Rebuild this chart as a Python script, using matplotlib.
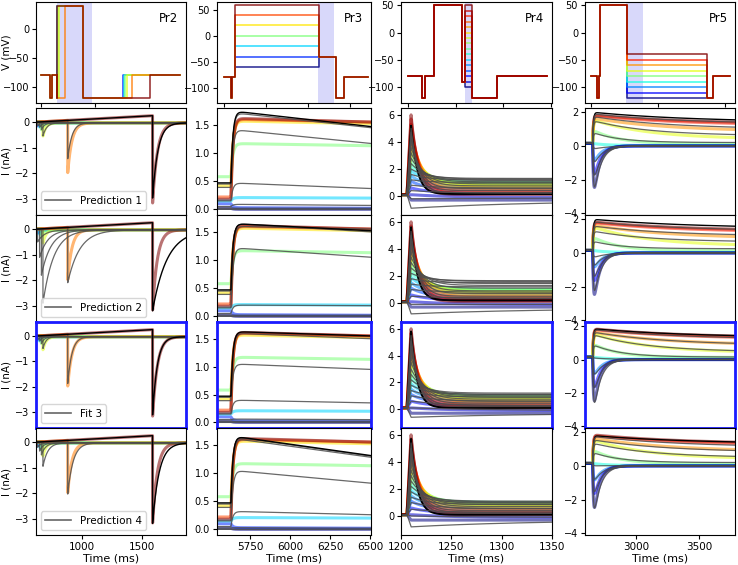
import numpy as np
import matplotlib
matplotlib.use("Agg")
import matplotlib.pyplot as plt
from matplotlib.lines import Line2D

plt.rcParams['font.size'] = 7
plt.rcParams['axes.linewidth'] = 0.8
plt.rcParams['xtick.major.pad'] = 2
plt.rcParams['ytick.major.pad'] = 2
plt.rcParams['xtick.major.size'] = 3
plt.rcParams['ytick.major.size'] = 3

# ---------------- protocols (top row) ----------------
# Pr2: 6 sweeps, step-up time and step-back time vary
pr2_up = [300, 310, 320, 340, 450, 300]
pr2_back = [1528, 1545, 1560, 1590, 1683, 2022]
pr2_cpos = [0.15, 0.35, 0.5, 0.62, 0.78, 1.0]
# Pr3: step voltages
pr3_v = [-60, -40, -20, 0, 20, 40, 60]
# Pr4: step voltages
pr4_v = [50, 40, 30, 20, 10, 0, -10, -20, -30, -40, -50, -60, -70, -80, -90, -100]
# Pr5: step voltages
pr5_v = [-40, -50, -60, -70, -80, -90, -100, -110, -120]

# ---------------- Pr2 currents ----------------
pr2_tspike = [628, 645, 660, 673, 880, 1590]
pr2_amp_data = [-0.15, -0.2, -0.3, -0.55, -2.0, -3.2]
pr2_tau_data = [20, 20, 25, 25, 35, 40]
pr2_amp_model = [
    [-0.15, -0.2, -0.3, -0.55, -1.45, -3.0],
    [-0.5, -1.1, -1.8, -2.9, -2.1, -3.2],
    [-0.15, -0.2, -0.3, -0.5, -1.9, -3.15],
    [-0.2, -0.35, -0.5, -0.95, -2.05, -3.2],
]
pr2_tau_model = [
    [20, 20, 25, 30, 35, 45],
    [60, 70, 80, 90, 100, 120],
    [20, 20, 25, 25, 35, 40],
    [25, 30, 35, 40, 45, 55],
]
pr2_ramp = 0.25  # nA reached by the last sweep before its tail

# ---------------- Pr3 currents ----------------
pr3_pre_data = [0.02, 0.1, 0.15, 0.58, 0.42, 0.22, 0.18]
pr3_pk_data = [0.0, 0.03, 0.21, 1.17, 1.57, 1.6, 1.62]
pr3_end_data = [0.0, 0.02, 0.2, 1.13, 1.52, 1.55, 1.55]
pr3_pre_model = [0.0, 0.02, 0.05, 0.15, 0.39, 0.45, 0.47]
pr3_pk_model = [
    [0.0, 0.02, 0.09, 0.47, 1.42, 1.72, 1.75],
    [0.0, 0.02, 0.2, 1.22, 1.6, 1.65, 1.65],
    [0.0, 0.02, 0.06, 0.4, 1.05, 1.6, 1.63],
    [0.0, 0.03, 0.32, 1.05, 1.62, 1.65, 1.66],
]
pr3_end_model = [
    [0.0, 0.02, 0.07, 0.37, 1.17, 1.45, 1.47],
    [0.0, 0.02, 0.19, 1.05, 1.55, 1.5, 1.52],
    [0.0, 0.02, 0.05, 0.35, 0.95, 1.5, 1.55],
    [0.0, 0.02, 0.26, 0.82, 1.28, 1.3, 1.31],
]

# ---------------- Pr4 currents ----------------
pr4_pk_data = [6.0, 5.7, 5.3, 4.9, 4.5, 4.0, 3.6, 3.1, 2.7, 2.3, 1.9, 1.5, 1.1, 0.6, 0.1, -0.3]
pr4_ss_data = [0.12, 0.2, 0.3, 0.45, 0.6, 0.75, 0.85, 0.95, 1.0, 1.0, 0.9, 0.7, 0.45, 0.2, -0.1, -0.3]
pr4_tau_data = [7, 8, 9, 10, 11, 12, 13, 14, 14, 14, 14, 14, 16, 20, 40, 60]
pr4_pk_model = [
    [5.2, 5.0, 4.7, 4.4, 4.0, 3.6, 3.2, 2.8, 2.4, 2.0, 1.6, 1.2, 0.8, 0.4, -0.2, -0.9],
    [5.6, 5.3, 5.0, 4.6, 4.2, 3.8, 3.4, 3.0, 2.6, 2.2, 1.8, 1.4, 1.0, 0.5, -0.1, -0.8],
    [5.8, 5.5, 5.1, 4.7, 4.3, 3.9, 3.5, 3.0, 2.6, 2.2, 1.8, 1.4, 1.0, 0.6, 0.1, -0.6],
    [5.7, 5.4, 5.0, 4.6, 4.2, 3.8, 3.4, 3.0, 2.6, 2.2, 1.8, 1.4, 1.0, 0.5, 0.0, -0.8],
]
pr4_ss_model = [
    [0.15, 0.25, 0.4, 0.55, 0.75, 0.9, 1.05, 1.15, 1.25, 1.3, 1.2, 1.0, 0.6, 0.2, -0.15, -0.35],
    [0.2, 0.35, 0.5, 0.7, 0.9, 1.1, 1.3, 1.45, 1.6, 1.65, 1.5, 1.2, 0.8, 0.35, -0.1, -0.4],
    [0.1, 0.2, 0.3, 0.45, 0.6, 0.75, 0.9, 1.0, 1.1, 1.2, 1.1, 0.9, 0.6, 0.25, -0.1, -0.3],
    [0.1, 0.2, 0.3, 0.4, 0.55, 0.7, 0.85, 0.95, 1.05, 1.1, 1.0, 0.85, 0.55, 0.2, -0.1, -0.3],
]
pr4_tau_model = [6, 7, 8, 9, 10, 11, 12, 13, 14, 15, 16, 18, 25, 40, 80, 120]

# ---------------- Pr5 currents ----------------
pr5_pk_data = [1.85, 1.8, 1.65, 1.55, 0.95, 0.15, -1.2, -2.5, -3.9]
pr5_ss_data = [1.3, 1.22, 0.85, 0.4, 0.13, 0.03, 0.0, 0.0, 0.0]
pr5_tau_data = [700, 700, 600, 450, 200, 100, 60, 50, 45]
pr5_pk_model = [
    [2.0, 1.9, 1.75, 1.5, 0.8, -0.2, -1.3, -2.5, -3.6],
    [2.0, 1.85, 1.6, 1.3, 0.7, -0.3, -1.0, -2.0, -3.3],
    [1.85, 1.8, 1.65, 1.5, 0.9, 0.1, -1.2, -2.4, -3.8],
    [1.8, 1.75, 1.55, 1.35, 0.8, 0.0, -1.1, -2.2, -3.7],
]
pr5_ss_model = [
    [1.4, 1.3, 1.0, 0.6, 0.2, 0.0, 0.0, 0.0, 0.0],
    [1.45, 1.3, 1.0, 0.65, 0.25, 0.02, 0.0, 0.0, 0.0],
    [1.3, 1.2, 0.85, 0.45, 0.15, 0.02, 0.0, 0.0, 0.0],
    [1.3, 1.1, 0.8, 0.5, 0.2, 0.02, 0.0, 0.0, 0.0],
]
pr5_tau_model = [800, 700, 600, 450, 220, 110, 70, 60, 55]

row_labels = ['Prediction 1', 'Prediction 2', 'Fit 3', 'Prediction 4']

# ---------------- trace builders ----------------
def decay(t, t0, tau):
    return np.exp(-np.clip(t - t0, 0, None) / tau)

def pr2_trace(t, ts, amp, tau):
    pre = pr2_ramp * np.clip(t - 620, 0, None) / (1590 - 620)
    post = -0.03 + (amp + 0.03) * decay(t, ts, tau)
    return np.where(t < ts, pre, post)

def pr3_trace(t, pre, pk, end, t0=5632, tr=12, t1=6505):
    line = pk + (end - pk) * np.clip(t - t0, 0, None) / (t1 - t0)
    after = line + (pre - line) * decay(t, t0, tr)
    return np.where(t < t0, pre, after)

def pr4_trace(t, pk, ss, tau, t0=1206, tp=1210, base=0.1):
    ramp = base + (pk - base) * np.clip(t - t0, 0, None) / (tp - t0)
    after = ss + (pk - ss) * decay(t, tp, tau)
    return np.where(t < t0, base, np.where(t < tp, ramp, after))

def pr5_trace(t, pk, ss, tau, t0=2660, tr=6, base=0.15):
    v = ss + (pk - ss) * decay(t, t0, tau) - (pk - base) * decay(t, t0, tr)
    return np.where(t < t0, base, v)

# ---------------- layout ----------------
W, H = 738, 565
fig = plt.figure(figsize=(W / 100, H / 100), dpi=100)

def pos(l, r, t, b):
    return [l / W, 1 - b / H, (r - l) / W, (b - t) / H]

cols = [(36, 186), (217, 371), (401, 552), (585, 735)]
rows = [(108, 215), (215, 322), (322, 428), (428, 535)]
top = (2, 103)

def vstairs(ax, times, volts, color):
    ax.plot(times, volts, drawstyle='steps-post', color=color, lw=1.1, alpha=0.85)

# top row
titles = ['Pr2', 'Pr3', 'Pr4', 'Pr5']
top_xlim = [(-87, 2690), (-333, 7000), (-293, 6040), (-179, 4298)]
top_xticks = [[0, 1000, 2000], [0, 2000, 4000, 6000], [0, 2000, 4000, 6000], [0, 2000, 4000]]
top_ylim = [(-128, 47), (-129, 65), (-129, 56), (-129, 56)]
top_span = [(300, 950), (4476, 5240), (2389, 2682), (1054, 1552)]

for c in range(4):
    ax = fig.add_axes(pos(cols[c][0], cols[c][1], top[0], top[1]))
    ax.axvspan(*top_span[c], color='#c8c8f8', alpha=0.7, lw=0)
    if c == 0:
        cmap = plt.cm.jet(pr2_cpos)
        for k in range(6):
            vstairs(ax, [0, 172, 215, 300, pr2_up[k], 780, pr2_back[k], 2577],
                    [-80, -120, -80, -120, 40, -120, -80, -80], cmap[k])
        ax.set_yticks([-100, -50, 0])
        ax.set_ylabel('V (mV)', fontsize=7.5)
        ax.yaxis.set_label_coords(-0.165, 0.5)
    elif c == 1:
        cmap = plt.cm.jet(np.linspace(0, 1, len(pr3_v)))
        for k, v in enumerate(pr3_v):
            vstairs(ax, [0, 333, 400, 524, 4524, 5333, 5714, 6857],
                    [-80, -120, -80, v, -40, -120, -80, -80], cmap[k])
        ax.set_yticks([-100, -50, 0, 50])
    elif c == 2:
        cmap = plt.cm.jet(np.linspace(1, 0, len(pr4_v)))
        for k in range(len(pr4_v) - 1, -1, -1):
            vstairs(ax, [0, 587, 712, 1090, 2263, 2389, 2682, 3730, 5824],
                    [-80, -120, -80, 50, -90, pr4_v[k], -120, -80, -80], cmap[k])
        ax.set_yticks([-100, -50, 0, 50])
    else:
        cmap = plt.cm.jet(np.linspace(1, 0, len(pr5_v)))
        for k in range(len(pr5_v) - 1, -1, -1):
            vstairs(ax, [0, 179, 240, 269, 1084, 3472, 3642, 4149],
                    [-80, -120, -80, 50, pr5_v[k], -120, -80, -80], cmap[k])
        ax.set_yticks([-100, -50, 0, 50])
    ax.set_xlim(top_xlim[c])
    ax.set_ylim(top_ylim[c])
    ax.set_xticks(top_xticks[c])
    ax.set_xticklabels([])
    ax.text(0.95, 0.9, titles[c], transform=ax.transAxes, ha='right', va='top', fontsize=8.5)

# current rows
data_kw = dict(lw=2.2, alpha=0.55, solid_capstyle='butt')
model_kw = dict(color='0.3', lw=0.9, alpha=0.85)

for r in range(4):
    axs = [fig.add_axes(pos(cols[c][0], cols[c][1], rows[r][0], rows[r][1])) for c in range(4)]

    # Pr2
    ax = axs[0]
    t = np.linspace(615, 1870, 2000)
    cmap = plt.cm.jet(pr2_cpos)
    for k in range(6):
        ax.plot(t, pr2_trace(t, pr2_tspike[k], pr2_amp_data[k], pr2_tau_data[k]), color=cmap[k], **data_kw)
    for k in range(6):
        ax.plot(t, pr2_trace(t, pr2_tspike[k], pr2_amp_model[r][k], pr2_tau_model[r][k]),
                **(dict(color='k', lw=1.0) if k == 5 else model_kw))
    ax.set_xlim(615, 1870)
    ax.set_ylim(-3.62, 0.55)
    ax.set_yticks([-3, -2, -1, 0])
    ax.set_xticks([1000, 1500])
    ax.set_ylabel('I (nA)', fontsize=7.5)
    ax.yaxis.set_label_coords(-0.165, 0.5)
    ax.legend([Line2D([], [], color='0.4', lw=1.2)], [row_labels[r]], loc='lower left',
              fontsize=7.5, handlelength=2.5, borderpad=0.4)

    # Pr3
    ax = axs[1]
    t = np.linspace(5545, 6505, 1500)
    cmap = plt.cm.jet(np.linspace(0, 1, len(pr3_v)))
    for k in range(len(pr3_v)):
        ax.plot(t, pr3_trace(t, pr3_pre_data[k], pr3_pk_data[k], pr3_end_data[k]), color=cmap[k], **data_kw)
    for k in range(len(pr3_v)):
        ax.plot(t, pr3_trace(t, pr3_pre_model[k], pr3_pk_model[r][k], pr3_end_model[r][k]),
                **(dict(color='k', lw=1.0) if k == 6 else model_kw))
    ax.set_xlim(5545, 6505)
    ax.set_ylim(-0.1, 1.8)
    ax.set_yticks([0, 0.5, 1.0, 1.5])
    ax.set_xticks([5750, 6000, 6250, 6500])

    # Pr4
    ax = axs[2]
    t = np.linspace(1200, 1350, 1500)
    cmap = plt.cm.jet(np.linspace(1, 0, len(pr4_v)))
    for k in range(len(pr4_v) - 1, -1, -1):
        ax.plot(t, pr4_trace(t, pr4_pk_data[k], pr4_ss_data[k], pr4_tau_data[k]), color=cmap[k], **data_kw)
    for k in range(len(pr4_v)):
        ax.plot(t, pr4_trace(t, pr4_pk_model[r][k], pr4_ss_model[r][k], pr4_tau_model[k]),
                **(dict(color='k', lw=1.4) if k == 0 else model_kw))
    ax.set_xlim(1200, 1350)
    ax.set_ylim(-1.4, 6.5)
    ax.set_yticks([0, 2, 4, 6])
    ax.set_xticks([1200, 1250, 1300, 1350])

    # Pr5
    ax = axs[3]
    t = np.linspace(2600, 3780, 2000)
    cmap = plt.cm.jet(np.linspace(1, 0, len(pr5_v)))
    for k in range(len(pr5_v)):
        ax.plot(t, pr5_trace(t, pr5_pk_data[k], pr5_ss_data[k], pr5_tau_data[k]), color=cmap[k], **data_kw)
    for k in range(len(pr5_v)):
        ax.plot(t, pr5_trace(t, pr5_pk_model[r][k], pr5_ss_model[r][k], pr5_tau_model[k]),
                **(dict(color='k', lw=1.0) if k == 0 else model_kw))
    ax.set_xlim(2600, 3780)
    ax.set_ylim(-4.1, 2.25)
    ax.set_yticks([-4, -2, 0, 2])
    ax.set_xticks([3000, 3500])

    for ax in axs:
        if r < 3:
            ax.set_xticklabels([])
        else:
            ax.set_xlabel('Time (ms)', fontsize=8, labelpad=1)
            ax.tick_params(axis='x', labelsize=7.5)
        if r == 2:
            for s in ax.spines.values():
                s.set_color('#1a1aff')
                s.set_linewidth(2)

fig.savefig('out.png', dpi=100)
